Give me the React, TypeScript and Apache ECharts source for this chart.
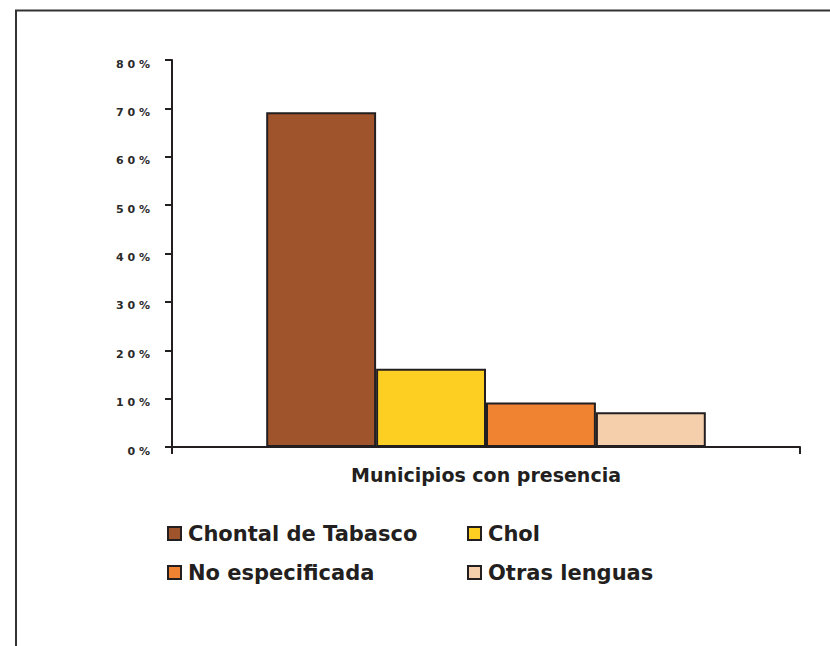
import React, { useEffect, useRef } from "react";
import * as echarts from "echarts";

const categories = ["Municipios con presencia"];
const seriesNames = ["Chontal de Tabasco", "Chol", "No especificada", "Otras lenguas"];
const seriesValues = [69.2, 16.2, 9.2, 7.2];
const seriesColors = ["#a0542b", "#fccf22", "#f08332", "#f5cfab"];
const yTickValues = [0, 10, 20, 30, 40, 50, 60, 70, 80];

const INK = "#231f20";
const FONT = "DejaVu Sans";

export default function App() {
  const ref = useRef<HTMLDivElement>(null);
  useEffect(() => {
    if (!ref.current) return;
    const chart = echarts.init(ref.current, null, { renderer: "svg" });
    const legendPos = [
      { left: 162, top: 518 },
      { left: 462, top: 518 },
      { left: 162, top: 557 },
      { left: 462, top: 557 },
    ];
    chart.setOption({
      animation: false,
      backgroundColor: "#ffffff",
      textStyle: { fontFamily: FONT },
      graphic: [
        {
          type: "rect",
          shape: { x: 16, y: 10.5, width: 1000, height: 1000 },
          style: { fill: "none", stroke: "#333333", lineWidth: 2 },
          silent: true,
        },
      ],
      grid: { left: 172, right: 30, top: 60, bottom: 199, containLabel: false },
      xAxis: {
        type: "category",
        data: categories,
        axisLine: { lineStyle: { color: INK, width: 2 } },
        axisTick: { show: true, length: 7, lineStyle: { color: INK, width: 2 } },
        axisLabel: { show: false },
        name: categories[0],
        nameLocation: "middle",
        nameGap: 18,
        nameTextStyle: { fontFamily: FONT, fontWeight: "bold", fontSize: 19, color: INK },
      },
      yAxis: {
        type: "value",
        min: yTickValues[0],
        max: yTickValues[yTickValues.length - 1],
        interval: 10,
        splitLine: { show: false },
        axisLine: { show: true, lineStyle: { color: INK, width: 2 } },
        axisTick: { show: true, length: 7, lineStyle: { color: INK, width: 2 } },
        axisLabel: {
          margin: 22,
          fontFamily: FONT,
          fontWeight: "bold",
          fontSize: 11,
          color: "#2a2a2a",
          verticalAlign: "top",
          lineHeight: 8,
          formatter: (v: number) => String(v).split("").join(" ") + " %",
        },
      },
      legend: seriesNames.map((name, i) => ({
        data: [name],
        left: legendPos[i].left,
        top: legendPos[i].top,
        orient: "horizontal",
        icon: "rect",
        itemWidth: 13,
        itemHeight: 13,
        selectedMode: false,
        textStyle: {
          fontFamily: FONT,
          fontWeight: "bold",
          fontSize: 21,
          color: INK,
          padding: [0, 0, 0, 2],
        },
      })),
      series: seriesNames.map((name, i) => ({
        name,
        type: "bar",
        data: [seriesValues[i]],
        barGap: "0%",
        barCategoryGap: "30%",
        itemStyle: { color: seriesColors[i], borderColor: INK, borderWidth: 2 },
      })),
    });
    return () => chart.dispose();
  }, []);
  return (
    <div
      ref={ref}
      style={{ position: "absolute", left: 0, top: 0, width: 830, height: 646 }}
    />
  );
}
